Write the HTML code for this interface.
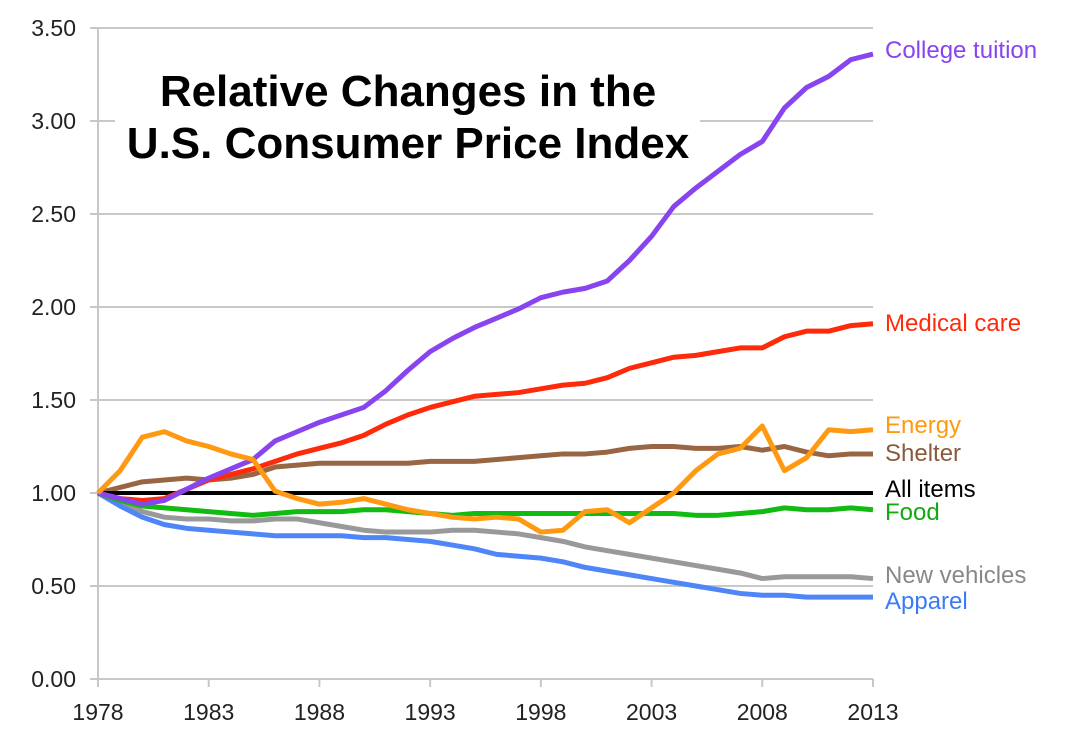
<!DOCTYPE html>
<html><head><meta charset="utf-8"><style>
body{margin:0;background:#fff;}
svg text{font-family:"Liberation Sans",Arial,sans-serif;}
</style></head><body>
<svg id="chart" width="1080" height="749" xmlns="http://www.w3.org/2000/svg">
<g id="grid"></g><g id="series"></g><g id="labels"></g>
<rect x="115" y="62" width="585" height="108" fill="#fff"/>
<text x="408" y="106" text-anchor="middle" font-size="44" font-weight="bold" fill="#000">Relative Changes in the</text>
<text x="408" y="158" text-anchor="middle" font-size="44" font-weight="bold" fill="#000">U.S. Consumer Price Index</text>
</svg>
<script>
const years=[];for(let y=1978;y<=2013;y++)years.push(y);
const yTicks=[0,0.5,1,1.5,2,2.5,3,3.5];
const yTickLabels=["0.00","0.50","1.00","1.50","2.00","2.50","3.00","3.50"];
const xTickYears=[1978,1983,1988,1993,1998,2003,2008,2013];
const tuition=[1.0,0.97,0.94,0.96,1.02,1.08,1.13,1.18,1.28,1.33,1.38,1.42,1.46,1.55,1.66,1.76,1.83,1.89,1.94,1.99,2.05,2.08,2.10,2.14,2.25,2.38,2.54,2.64,2.73,2.82,2.89,3.07,3.18,3.24,3.33,3.36];
const medical=[1.0,0.97,0.96,0.97,1.02,1.07,1.10,1.13,1.17,1.21,1.24,1.27,1.31,1.37,1.42,1.46,1.49,1.52,1.53,1.54,1.56,1.58,1.59,1.62,1.67,1.70,1.73,1.74,1.76,1.78,1.78,1.84,1.87,1.87,1.90,1.91];
const energy=[1.0,1.12,1.30,1.33,1.28,1.25,1.21,1.18,1.01,0.97,0.94,0.95,0.97,0.94,0.91,0.89,0.87,0.86,0.87,0.86,0.79,0.80,0.90,0.91,0.84,0.92,1.00,1.12,1.21,1.24,1.36,1.12,1.19,1.34,1.33,1.34];
const shelter=[1.0,1.03,1.06,1.07,1.08,1.07,1.08,1.10,1.14,1.15,1.16,1.16,1.16,1.16,1.16,1.17,1.17,1.17,1.18,1.19,1.20,1.21,1.21,1.22,1.24,1.25,1.25,1.24,1.24,1.25,1.23,1.25,1.22,1.20,1.21,1.21];
const allItems=years.map(()=>1.0);
const food=[1.0,0.96,0.93,0.92,0.91,0.90,0.89,0.88,0.89,0.90,0.90,0.90,0.91,0.91,0.90,0.89,0.88,0.89,0.89,0.89,0.89,0.89,0.89,0.89,0.89,0.89,0.89,0.88,0.88,0.89,0.90,0.92,0.91,0.91,0.92,0.91];
const vehicles=[1.0,0.95,0.90,0.87,0.86,0.86,0.85,0.85,0.86,0.86,0.84,0.82,0.80,0.79,0.79,0.79,0.80,0.80,0.79,0.78,0.76,0.74,0.71,0.69,0.67,0.65,0.63,0.61,0.59,0.57,0.54,0.55,0.55,0.55,0.55,0.54];
const apparel=[1.0,0.93,0.87,0.83,0.81,0.80,0.79,0.78,0.77,0.77,0.77,0.77,0.76,0.76,0.75,0.74,0.72,0.70,0.67,0.66,0.65,0.63,0.60,0.58,0.56,0.54,0.52,0.50,0.48,0.46,0.45,0.45,0.44,0.44,0.44,0.44];
const seriesList=[
 {name:"New vehicles",data:vehicles,color:"#999999",ly:575,lc:"#888888"},
 {name:"Apparel",data:apparel,color:"#4f86f7",ly:601,lc:"#3d7af5"},
 {name:"Food",data:food,color:"#11bb11",ly:512,lc:"#11aa11"},
 {name:"Shelter",data:shelter,color:"#996644",ly:453,lc:"#8b5a3c"},
 {name:"All items",data:allItems,color:"#000000",ly:489,lc:"#000"},
 {name:"Medical care",data:medical,color:"#ff2a0a",ly:323,lc:"#ff2a0a"},
 {name:"College tuition",data:tuition,color:"#8844ee",ly:50,lc:"#8844ee"},
 {name:"Energy",data:energy,color:"#ff9912",ly:425,lc:"#ff9912"}
];
const X0=98,X1=873,Y0=679,Y1=28;
const xs=y=>X0+(y-1978)*(X1-X0)/35;
const ys=v=>Y0-v*(Y0-Y1)/3.5;
const NS="http://www.w3.org/2000/svg";
const grid=document.getElementById('grid'),ser=document.getElementById('series'),lab=document.getElementById('labels');
function mk(tag,attrs,parent){const e=document.createElementNS(NS,tag);for(const k in attrs)e.setAttribute(k,attrs[k]);parent.appendChild(e);return e;}
yTicks.forEach((t,i)=>{
 const l=mk('line',{x1:X0-8,x2:X1,y1:ys(t),y2:ys(t),stroke:"#c8c8c8","stroke-width":2},grid);
 
 
 const tx=mk('text',{x:76,y:ys(t)+8,"text-anchor":"end","font-size":23,fill:"#222"},grid);
 tx.textContent=yTickLabels[i];
 
 
});
const ax=mk('line',{x1:X0,x2:X0,y1:Y1,y2:Y0+8,stroke:"#c8c8c8","stroke-width":2},grid);


xTickYears.forEach(y=>{
 const tk=mk('line',{x1:xs(y),x2:xs(y),y1:Y0,y2:Y0+8,stroke:"#c8c8c8","stroke-width":2},grid);
 
 
 const tx=mk('text',{x:xs(y),y:720,"text-anchor":"middle","font-size":23,fill:"#222"},grid);
 tx.textContent=String(y);
 
 
});
seriesList.forEach(s=>{
 const pts=s.data.map((v,i)=>xs(years[i])+","+ys(v)).join(" ");
 const p=mk('polyline',{points:pts,fill:"none",stroke:s.color,"stroke-width":s.name==="All items"?4:5,"stroke-linejoin":"round"},ser);
 
 
 const t=mk('text',{x:885,y:s.ly+8,"font-size":24,fill:s.lc},lab);
 t.textContent=s.name;
 
 
});
</script>
</body></html>
